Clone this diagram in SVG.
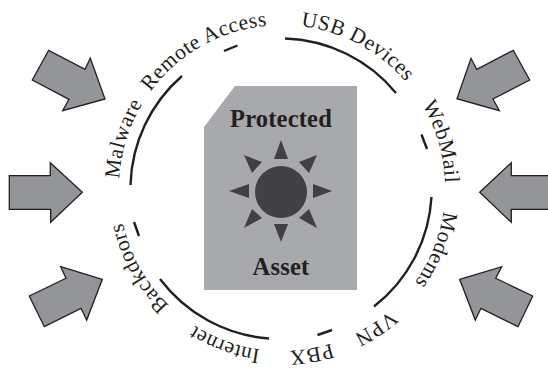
<svg xmlns="http://www.w3.org/2000/svg" width="548" height="370" viewBox="0 0 548 370">
<style>
.arrow{fill:#939598;stroke:#231f20;stroke-width:1.3;stroke-linejoin:miter}
.ray{fill:#414042}
.ring{fill:none;stroke:#231f20;stroke-width:2.4}
.lab{font-family:"Liberation Serif","DejaVu Serif",serif;font-size:21.500px;letter-spacing:.5px;fill:#231f20;text-anchor:middle}
.title{font-family:"Liberation Serif","DejaVu Serif",serif;font-size:24.500px;letter-spacing:.2px;font-weight:bold;fill:#231f20;text-anchor:middle}
</style>
<defs>
<path id="c" d="M282 351A163 163 0 1 1 282 25A163 163 0 1 1 282 351"/>
</defs>
<rect width="548" height="370" fill="#fff"/>
<g id="asset">
<polygon points="235,86 357,86 357,290 204,290 204,127" fill="#a7a9ac"/>
<circle cx="281" cy="192" r="26" class="ray"/>
<polygon class="ray" points="281,140 274,159 288,159"/>
<polygon class="ray" points="332,191 313,184 313,198"/>
<polygon class="ray" points="281,242 274,224 288,224"/>
<polygon class="ray" points="229,191 249,184 249,198"/>
<polygon class="ray" points="317,155 299,162 309,173"/>
<polygon class="ray" points="317,228 299,218 309,209"/>
<polygon class="ray" points="244,155 262,162 252,173"/>
<polygon class="ray" points="244,228 262,218 252,209"/>
<text class="title" x="281" y="127">Protected</text>
<text class="title" x="281" y="275">Asset</text>
</g>
<g id="connectors">
<path class="ring" d="M182 76A150 150 0 0 0 130.500 185"/>
<path class="ring" d="M224 51L237.500 45.500"/>
<path class="ring" d="M285 38.500A150 150 0 0 1 396 93"/>
<path class="ring" d="M421.500 134.500L427 149"/>
<path class="ring" d="M431.500 197A150 150 0 0 1 374 306.500"/>
<path class="ring" d="M317.500 335L332 330"/>
<path class="ring" d="M269 338.500A150 150 0 0 1 160 279"/>
<path class="ring" d="M134 222L139 236"/>
</g>
<g id="arrow-top-left"><polygon class="arrow" points="48.700,50.300 32.300,80 69,99.300 62.700,110.700 105,99 90.300,58.300 85,69.300"/></g>
<g id="arrow-left"><polygon class="arrow" points="9.300,175.700 50.300,175.700 50.300,162.700 82.300,192.300 50.700,222.300 50.700,209.300 9.300,209.300"/></g>
<g id="arrow-bottom-left"><polygon class="arrow" points="60.700,266.700 102.300,279.300 86.700,320 81,308.300 44.300,326.700 29.300,296 66,278.300"/></g>
<g id="arrow-top-right"><polygon class="arrow" points="457,98.700 471,58.300 476.700,69.300 513.300,50.300 529.700,80 493,99 499.300,110.700"/></g>
<g id="arrow-right"><polygon class="arrow" points="479.700,192.300 511.300,162.700 511.300,175.700 549,175.700 549,209.300 511.300,209.300 511.300,222.300"/></g>
<g id="arrow-bottom-right"><polygon class="arrow" points="459.700,279.300 501.700,266.700 495.700,278.300 532.700,296 518,326.700 481,308.300 475.300,320"/></g>
<g id="label-malware"><text class="lab"><textPath href="#c" startOffset="29.800%">Malware</textPath></text></g>
<g id="label-remote"><text class="lab"><textPath href="#c" startOffset="41.800%">Remote Access</textPath></text></g>
<g id="label-usb"><text class="lab"><textPath href="#c" startOffset="57.800%">USB Devices</textPath></text></g>
<g id="label-webmail"><text class="lab"><textPath href="#c" startOffset="70.500%">WebMail</textPath></text></g>
<g id="label-modems"><text class="lab"><textPath href="#c" startOffset="81.100%">Modems</textPath></text></g>
<g id="label-vpn"><text class="lab"><textPath href="#c" startOffset="90.600%">VPN</textPath></text></g>
<g id="label-pbx"><text class="lab"><textPath href="#c" startOffset="97.200%">PBX</textPath></text></g>
<g id="label-internet"><text class="lab"><textPath href="#c" startOffset="5.600%">Internet</textPath></text></g>
<g id="label-backdoors"><text class="lab"><textPath href="#c" startOffset="16.900%">Backdoors</textPath></text></g>
</svg>
